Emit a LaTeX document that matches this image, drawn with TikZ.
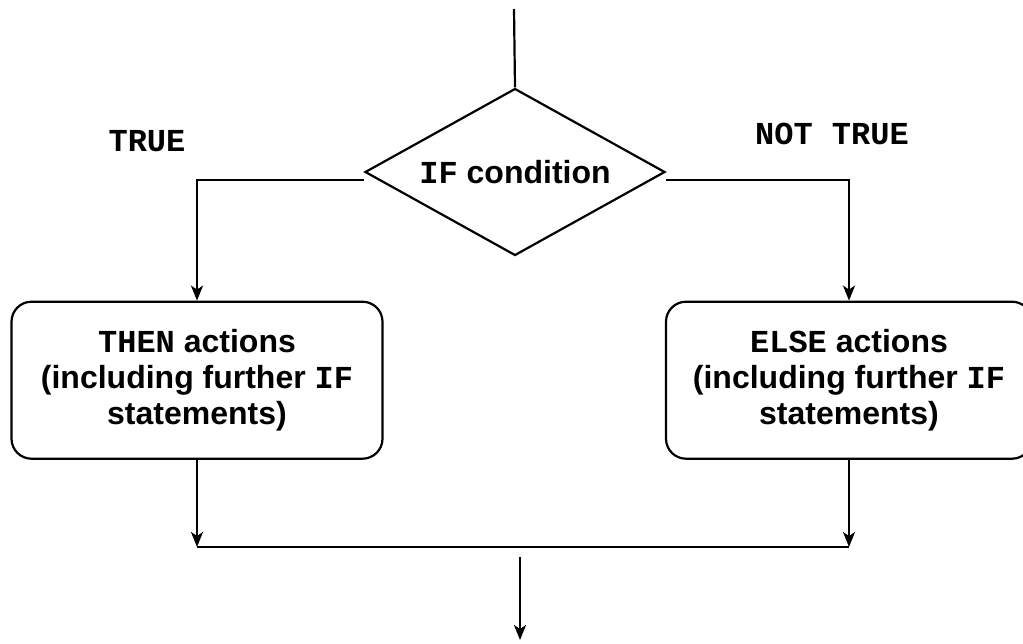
\documentclass[tikz,border=0pt]{standalone}
\usepackage{fontspec}
\setmainfont{Liberation Sans}
\setmonofont{Liberation Mono}
\usetikzlibrary{positioning, shapes.geometric, arrows.meta}
\tikzset{
  decision/.style={diamond, draw=black, aspect=1.8, inner sep=0pt, minimum width=300pt, minimum height=167pt},
  action/.style={rectangle, draw=black, rounded corners=20pt, minimum height=157pt, align=center},
  lbl/.style={draw=none, fill=none, inner sep=0pt},
  flow/.style={-{Stealth[length=15pt, width=12pt, inset=4pt]}}
}

\begin{document}
\begin{tikzpicture}[x=1pt, y=-1pt, line width=2.2pt, font=\fontsize{32}{36}\selectfont\bfseries]
  \useasboundingbox (0,0) rectangle (1023,643);
  % Nodes
  \node (cond) [decision] at (515,172) {\texttt{IF} condition};
  \node (thenbox) [action, below=44pt of cond, xshift=-318pt, minimum width=371pt] {
    \texttt{THEN} actions\\
    (including further \texttt{IF}\\
    statements)
  };
  \node (elsebox) [action, below=44pt of cond, xshift=334pt, minimum width=366pt] {
    \texttt{ELSE} actions\\
    (including further \texttt{IF}\\
    statements)
  };
  \node (truelbl) [lbl] at (147,141) {\texttt{TRUE}};
  \node (nottruelbl) [lbl] at (832,134) {\texttt{NOT TRUE}};

  \coordinate (entry) at (514,9);
  \coordinate (joinL) at (thenbox.south |- 0,547);
  \coordinate (joinR) at (elsebox.south |- 0,547);
  \coordinate (exitS) at (520,557);
  \coordinate (exitE) at (520,640);

  \draw (entry) -- (cond.north);
  \draw[flow] ([yshift=-8pt]cond.west) -| (thenbox.north);
  \draw[flow] ([yshift=-8pt]cond.east) -| (elsebox.north);
  \draw[flow] (thenbox.south) -- (joinL);
  \draw[flow] (elsebox.south) -- (joinR);
  \draw (joinL) -- (joinR);
  \draw[flow] (exitS) -- (exitE);
\end{tikzpicture}
\end{document}
